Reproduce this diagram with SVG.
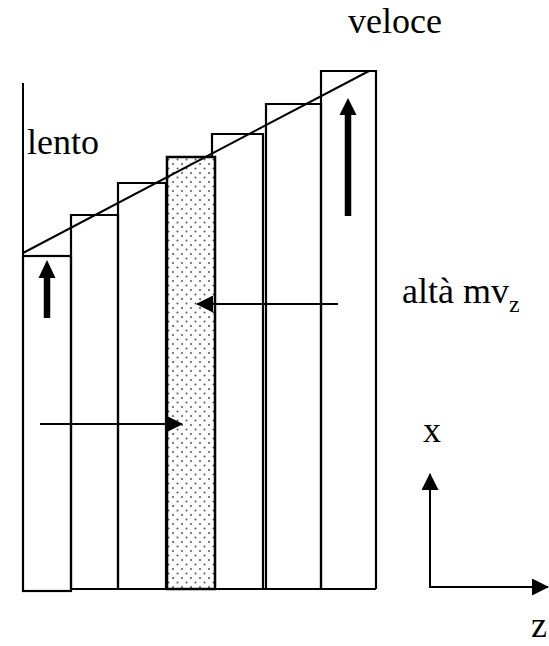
<svg xmlns="http://www.w3.org/2000/svg" width="549" height="646" viewBox="0 0 549 646">
<style>
.b{fill:none;stroke:#000;stroke-width:2.2}
.l{stroke:#000;stroke-width:2;fill:none}
.t{font-family:"Liberation Serif","Times New Roman",serif;font-size:36px;fill:#000}
.s{font-family:"Liberation Serif","Times New Roman",serif;font-size:24px;fill:#000}
</style>
<defs>
<pattern id="dots" width="9" height="9" patternUnits="userSpaceOnUse">
<rect width="9" height="9" fill="#fff"/>
<circle cx="2" cy="2" r="1" fill="#555"/>
<circle cx="6.5" cy="6.5" r="1" fill="#555"/>
</pattern>
<marker id="ah2" markerWidth="17" markerHeight="17" refX="16" refY="8.5" orient="auto" markerUnits="userSpaceOnUse" viewBox="0 0 17 17">
<path d="M0,0 L17,8.5 L0,17 z" fill="#000"/>
</marker>
</defs>
<rect width="549" height="646" fill="#fff"/>
<g id="wall"><line class="l" x1="23" y1="83" x2="23" y2="256"/></g>
<g id="box1"><rect class="b" x="23" y="256" width="48" height="335"/></g>
<g id="box2"><path class="b" d="M71,589 V215 H118 V589"/></g>
<g id="box3"><path class="b" d="M118,589 V183 H166 V589"/></g>
<g id="box4"><rect x="167" y="157" width="48" height="432" fill="url(#dots)" stroke="#000" stroke-width="2.5"/></g>
<g id="box5"><path class="b" d="M212,157 V134 H263 V589"/></g>
<g id="box6"><path class="b" d="M266,589 V104 H321 V589"/></g>
<g id="box7"><path class="b" d="M321,589 V71 H376 V589"/></g>
<g id="base"><line class="b" x1="71" y1="589" x2="376" y2="589"/></g>
<g id="profile"><line class="l" x1="23" y1="253" x2="369" y2="71"/></g>
<g id="connectors">
<path d="M47,318 V276" stroke="#000" stroke-width="6.5" fill="none"/>
<path d="M38.5,278 L47,260 L55.5,278 z" fill="#000"/>
<path d="M348,216 V112" stroke="#000" stroke-width="6.5" fill="none"/>
<path d="M339.5,115 L348,98 L356.5,115 z" fill="#000"/>
<line class="l" x1="338" y1="304" x2="197" y2="304" marker-end="url(#ah2)"/>
<line class="l" x1="40" y1="424" x2="182" y2="424" marker-end="url(#ah2)"/>
<line class="l" x1="430" y1="588" x2="430" y2="474" marker-end="url(#ah2)"/>
<line class="l" x1="429" y1="587" x2="548" y2="587" marker-end="url(#ah2)"/>
</g>
<g id="labels">
<text class="t" x="348" y="33">veloce</text>
<text class="t" x="27" y="154">lento</text>
<text class="t" x="402" y="303">altà mv<tspan class="s" dy="9">z</tspan></text>
<text class="t" x="423" y="442">x</text>
<text class="t" x="531" y="637">z</text>
</g>
</svg>
